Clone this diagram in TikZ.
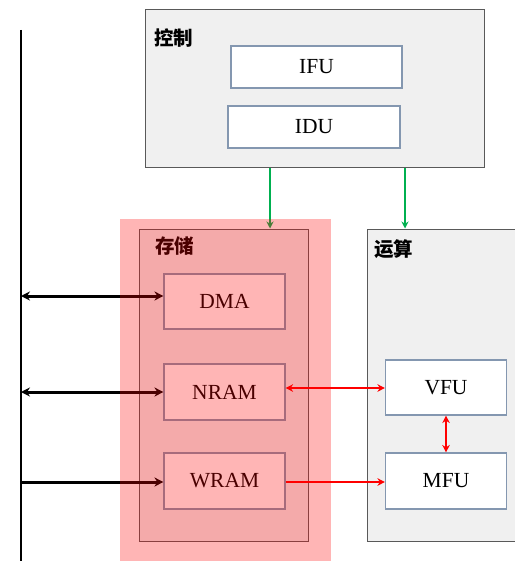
\documentclass[tikz,border=0pt]{standalone}
\usepackage{fontspec}
\setmainfont{Liberation Serif}
\newfontfamily\cjk{Noto Sans CJK SC}
\usetikzlibrary{arrows.meta}
\definecolor{panelfill}{HTML}{F0F0F0}
\definecolor{panelline}{HTML}{595959}
\definecolor{unitline}{HTML}{8497B0}
\definecolor{ctlgreen}{HTML}{00B050}
\begin{document}
\begin{tikzpicture}[x=1pt,y=-1pt,
  panel/.style={draw=panelline, line width=1pt, fill=panelfill, inner sep=0pt},
  unit/.style={draw=unitline, line width=1.1pt, fill=white, inner sep=0pt,
    font=\fontsize{21.5}{24}\selectfont},
  title/.style={inner sep=0pt, anchor=west, font=\cjk\bfseries\fontsize{19.5}{22}\selectfont},
  bus/.style={line width=2.8pt, black},
  busarrow/.style={line width=3pt, black, {Stealth[length=9pt,width=9pt]}-{Stealth[length=9pt,width=9pt]}},
  busarrowone/.style={line width=3pt, black, -{Stealth[length=9pt,width=9pt]}},
  dataarrow/.style={line width=2.4pt, red, {Stealth[length=7.5pt,width=7.5pt]}-{Stealth[length=7.5pt,width=7.5pt]}},
  dataarrowone/.style={line width=2.4pt, red, -{Stealth[length=7.5pt,width=7.5pt]}},
  ctlarrow/.style={line width=2.4pt, ctlgreen, -{Stealth[length=7pt,width=7pt]}},
  highlight/.style={fill=red, fill opacity=0.29, draw=none}
]
\useasboundingbox (0,0) rectangle (514,561);

% system bus
\coordinate (bustop) at (21,30);
\coordinate (busbot) at (21,561);
\draw[bus] (bustop) -- (busbot);

% control panel
\node[panel, minimum width=339pt, minimum height=158pt] (ctrl) at (314.5,89) {};
\node[title] (ctrltitle) at (154,38) {控制};
\node[unit, minimum width=171pt, minimum height=42pt] (ifu) at (316.5,67) {IFU};
\node[unit, minimum width=172pt, minimum height=42pt] (idu) at (314,127) {IDU};

% storage panel
\node[panel, minimum width=169pt, minimum height=312pt] (store) at (223.5,385) {};
\node[title] (storetitle) at (155,246) {存储};
\node[unit, minimum width=121pt, minimum height=55pt] (dma) at (224.5,301.5) {DMA};
\node[unit, minimum width=121pt, minimum height=56pt] (nram) at (224.5,392) {NRAM};
\node[unit, minimum width=121pt, minimum height=56pt] (wram) at (224.5,481) {WRAM};

% compute panel
\node[panel, minimum width=152pt, minimum height=312pt] (comp) at (443,385) {};
\node[title] (comptitle) at (374,249) {运算};
\node[unit, minimum width=121pt, minimum height=55pt] (vfu) at (446,387.5) {VFU};
\node[unit, minimum width=121pt, minimum height=56pt] (mfu) at (446,481) {MFU};

% control signals
\coordinate (g1) at (270,0);
\coordinate (g2) at (405,0);
\draw[ctlarrow] (g1 |- ctrl.south) -- (g1 |- store.north);
\draw[ctlarrow] (g2 |- ctrl.south) -- (g2 |- comp.north);

% bus connections
\coordinate (b1) at (21,296);
\coordinate (b2) at (21,392);
\coordinate (b3) at (21,482);
\draw[busarrow] (b1) -- (b1 -| dma.west);
\draw[busarrow] (b2) -- (b2 -| nram.west);
\draw[busarrowone] (b3) -- (b3 -| wram.west);

% data paths
\coordinate (d1) at (0,388);
\coordinate (d2) at (0,482);
\draw[dataarrow] (d1 -| nram.east) -- (d1 -| vfu.west);
\draw[dataarrow] (vfu.south) -- (mfu.north);
\draw[dataarrowone] (d2 -| wram.east) -- (d2 -| mfu.west);

% storage highlight
\fill[highlight] (120,219) rectangle (331,561);
\end{tikzpicture}
\end{document}
